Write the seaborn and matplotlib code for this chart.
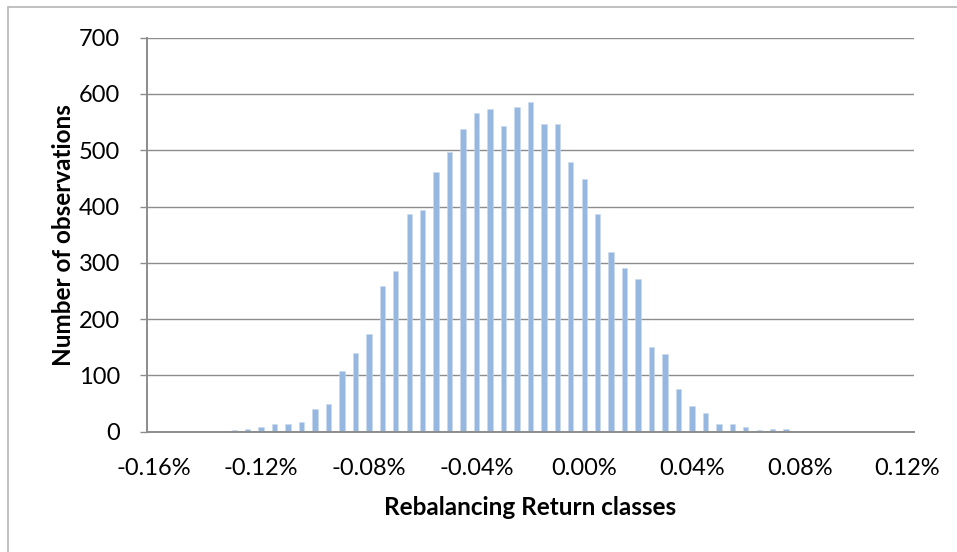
import matplotlib
matplotlib.use("Agg")
import matplotlib.pyplot as plt
import seaborn as sns
import pandas as pd
from matplotlib.patches import Rectangle

# Return classes (in %), one category per 0.005% step
classes = [-0.160, -0.155, -0.150, -0.145, -0.140, -0.135, -0.130, -0.125,
           -0.120, -0.115, -0.110, -0.105, -0.100, -0.095, -0.090, -0.085,
           -0.080, -0.075, -0.070, -0.065, -0.060, -0.055, -0.050, -0.045,
           -0.040, -0.035, -0.030, -0.025, -0.020, -0.015, -0.010, -0.005,
           0.000, 0.005, 0.010, 0.015, 0.020, 0.025, 0.030, 0.035,
           0.040, 0.045, 0.050, 0.055, 0.060, 0.065, 0.070, 0.075,
           0.080, 0.085, 0.090, 0.095, 0.100, 0.105, 0.110, 0.115, 0.120]

observations = [0, 0, 0, 0, 0, 0, 3, 4,
                8, 14, 13, 18, 41, 50, 108, 140,
                174, 259, 286, 386, 394, 461, 497, 538,
                567, 574, 543, 576, 585, 546, 546, 480,
                449, 387, 320, 291, 272, 150, 138, 76,
                46, 33, 14, 13, 8, 3, 4, 4,
                0, 0, 0, 0, 0, 0, 0, 0, 0]

tick_labels = ["-0.16%", "-0.12%", "-0.08%", "-0.04%", "0.00%", "0.04%", "0.08%", "0.12%"]
y_ticks = [0, 100, 200, 300, 400, 500, 600, 700]

df = pd.DataFrame({"cls": [f"{c:.3f}" for c in classes], "n": observations})

sns.set_theme(style="white")
plt.rcParams["font.family"] = ["Lato", "DejaVu Sans"]
plt.rcParams["text.color"] = "black"
plt.rcParams["axes.labelcolor"] = "black"
plt.rcParams["xtick.color"] = "black"
plt.rcParams["ytick.color"] = "black"

fig = plt.figure(figsize=(9.57, 5.52), dpi=100)
ax = fig.add_axes([146.7 / 957, 1 - 431.7 / 552, (914 - 146.7) / 957, (431.7 - 37.7) / 552])

sns.barplot(data=df, x="cls", y="n", order=df["cls"].tolist(), color="#95B7E0",
            width=0.4, saturation=1, edgecolor="#C9DBF0", linewidth=0.4, ax=ax)

ax.set_xlim(-0.5, len(classes) - 0.5)
ax.set_ylim(0, 700)
ax.set_yticks(y_ticks)
ax.set_yticklabels([str(v) for v in y_ticks], fontsize=17)
ax.set_xticks(range(0, len(classes), 8))
ax.set_xticklabels(tick_labels, fontsize=17)

grid_c = "#8c8c8c"
ax.yaxis.grid(True, color=grid_c, linewidth=1.0)
ax.set_axisbelow(True)
for s in ["top", "right"]:
    ax.spines[s].set_visible(False)
ax.spines["left"].set_color(grid_c)
ax.spines["bottom"].set_color(grid_c)
ax.spines["left"].set_linewidth(1.4)
ax.spines["bottom"].set_linewidth(1.4)

ax.tick_params(axis="y", which="major", left=True, length=5, width=1.0, color=grid_c,
               labelcolor="black", pad=14)
ax.tick_params(axis="x", which="major", bottom=False, labelcolor="black", pad=13)

ax.set_xlabel("Rebalancing Return classes", fontsize=17.5, fontweight="bold",
              labelpad=12, color="black")
ax.set_ylabel("Number of observations", fontsize=17.5, fontweight="bold",
              labelpad=3, color="black")

# Outer chart border (partly cropped at right and bottom)
fig.patches.append(Rectangle((8 / 957, -0.1), 1.2, (552 - 7) / 552 + 0.1,
                             transform=fig.transFigure, fill=False,
                             edgecolor="#b5b5b5", linewidth=1.2))

fig.savefig("out.png", dpi=100)
